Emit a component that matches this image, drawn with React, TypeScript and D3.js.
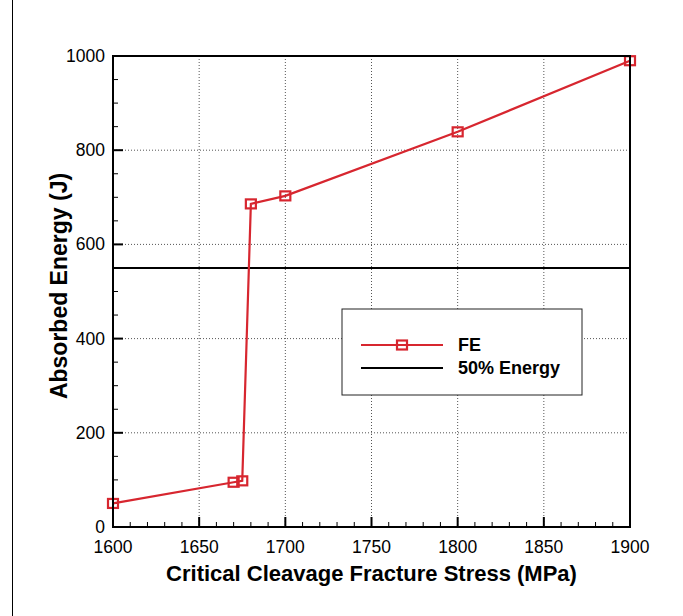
import React from "react";
import * as d3 from "d3";

const stressMPa = [1600, 1670, 1675, 1680, 1700, 1800, 1900];
const energyJ = [50, 95, 98, 686, 703, 839, 990];
const halfEnergy = 550;
const xTicks = [1600, 1650, 1700, 1750, 1800, 1850, 1900];
const yTicks = [0, 200, 400, 600, 800, 1000];
const legendLabels = ["FE", "50% Energy"];
const xTitle = "Critical Cleavage Fracture Stress (MPa)";
const yTitle = "Absorbed Energy (J)";

const W = 683;
const H = 616;
const L = 113, R = 630, T = 56, B = 527;
const RED = "#d7262f";
const FONT = "'Liberation Sans', Arial, sans-serif";

export default function App() {
  const x = d3.scaleLinear().domain([1600, 1900]).range([L, R]);
  const y = d3.scaleLinear().domain([0, 1000]).range([B, T]);
  const line = d3
    .line<number>()
    .x((_, i) => x(stressMPa[i]))
    .y((d) => y(d));

  const xMinor = d3.range(1600, 1900 + 0.001, 10).filter((v) => v % 50 !== 0);
  const yMinor = d3.range(0, 1000 + 0.001, 50).filter((v) => v % 200 !== 0);
  const xGrid = xTicks.filter((v) => v > 1600 && v < 1900);
  const yGrid = yTicks.filter((v) => v > 0 && v < 1000);

  const marker = (cx: number, cy: number, key: string | number) => (
    <rect key={key} x={cx - 5} y={cy - 4.5} width={10} height={9} fill="none" stroke={RED} strokeWidth={2.2} />
  );

  return (
    <svg
      width={W}
      height={H}
      style={{ position: "absolute", left: 0, top: 0, display: "block", background: "#fff" }}
      fontFamily={FONT}
    >
      <rect x={0} y={0} width={W} height={H} fill="#fff" />
      <line x1={12.5} x2={12.5} y1={0} y2={H} stroke="#000" strokeWidth={1} />

      {/* grid */}
      {xGrid.map((v) => (
        <line key={"gx" + v} x1={x(v)} x2={x(v)} y1={T} y2={B} stroke="#555" strokeWidth={1} strokeDasharray="1,2" />
      ))}
      {yGrid.map((v) => (
        <line key={"gy" + v} x1={L} x2={R} y1={y(v)} y2={y(v)} stroke="#555" strokeWidth={1} strokeDasharray="1,2" />
      ))}

      {/* ticks */}
      {xTicks.map((v) => (
        <line key={"tx" + v} x1={x(v)} x2={x(v)} y1={B} y2={B - 10} stroke="#000" strokeWidth={2} />
      ))}
      {xMinor.map((v) => (
        <line key={"mx" + v} x1={x(v)} x2={x(v)} y1={B} y2={B - 5} stroke="#000" strokeWidth={1} />
      ))}
      {yTicks.map((v) => (
        <line key={"ty" + v} x1={L} x2={L + 10} y1={y(v)} y2={y(v)} stroke="#000" strokeWidth={2} />
      ))}
      {yMinor.map((v) => (
        <line key={"my" + v} x1={L} x2={L + 5} y1={y(v)} y2={y(v)} stroke="#000" strokeWidth={1} />
      ))}

      {/* 50% line */}
      <line x1={L} x2={R} y1={y(halfEnergy)} y2={y(halfEnergy)} stroke="#000" strokeWidth={2} />

      {/* data */}
      <path d={line(energyJ) || ""} fill="none" stroke={RED} strokeWidth={2.2} />
      {energyJ.map((v, i) => marker(x(stressMPa[i]), y(v), "m" + i))}

      {/* frame */}
      <rect x={L} y={T} width={R - L} height={B - T} fill="none" stroke="#000" strokeWidth={2} />

      {/* tick labels */}
      {xTicks.map((v) => (
        <text key={"lx" + v} x={x(v)} y={553} textAnchor="middle" fontSize={17.5} fill="#000">
          {v}
        </text>
      ))}
      {yTicks.map((v) => (
        <text key={"ly" + v} x={105} y={y(v) + 6} textAnchor="end" fontSize={17.5} fill="#000">
          {v}
        </text>
      ))}

      {/* titles */}
      <text x={(L + R) / 2} y={581} textAnchor="middle" fontSize={22} fontWeight="bold" fill="#000">
        {xTitle}
      </text>
      <text
        transform={`translate(67, 286) rotate(-90)`}
        textAnchor="middle"
        fontSize={23}
        fontWeight="bold"
        fill="#000"
      >
        {yTitle}
      </text>

      {/* legend */}
      <rect x={342} y={309} width={240} height={86} fill="#fff" stroke="#222" strokeWidth={1} />
      <line x1={361} x2={443} y1={345} y2={345} stroke={RED} strokeWidth={2.2} />
      {marker(402, 345, "lm")}
      <line x1={361} x2={443} y1={368} y2={368} stroke="#000" strokeWidth={2} />
      <text x={458} y={351} fontSize={18} fontWeight="bold" fill="#000">{legendLabels[0]}</text>
      <text x={458} y={374} fontSize={18} fontWeight="bold" fill="#000">{legendLabels[1]}</text>
    </svg>
  );
}
